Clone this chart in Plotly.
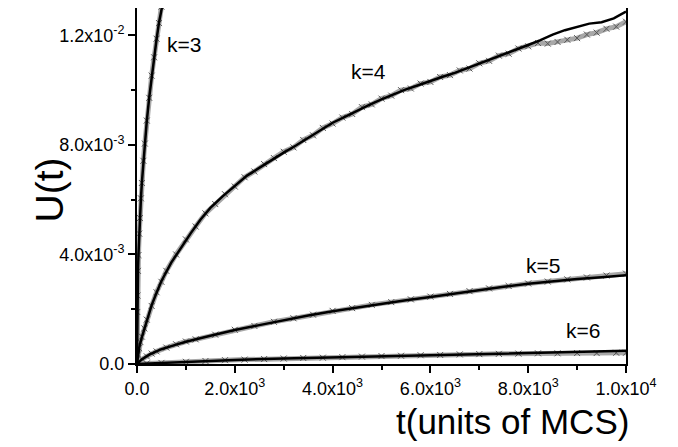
import plotly.graph_objects as go

# ---------------- data ----------------
# k=3
t3 = [0, 5, 10, 20, 30, 45, 60, 80, 100, 130, 160, 200, 250, 300, 350, 400, 450, 500, 530]
u3_line = [0, 0.00188, 0.00252, 0.00337, 0.0040, 0.00474, 0.00535, 0.00603, 0.00663, 0.0074,
           0.00807, 0.00887, 0.00974, 0.01051, 0.01122, 0.01186, 0.01247, 0.01303, 0.0132]
t3_sim = [0, 5, 10, 20, 30, 45, 60, 80, 100, 130, 160, 200, 250, 300, 350, 400, 450, 500, 530]
u3_sim = [0, 0.0019, 0.0025, 0.0034, 0.00398, 0.00476, 0.00533, 0.00605, 0.00661, 0.00742,
          0.00805, 0.00889, 0.00972, 0.01053, 0.0112, 0.01188, 0.01245, 0.01305, 0.01318]

# k=4
t4 = [0, 25, 50, 100, 200, 300, 400, 500, 700, 900, 1100, 1300, 1500, 1750, 2000, 2250, 2500,
      2750, 3000, 3250, 3500, 3750, 4000, 4250, 4500, 4750, 5000, 5250, 5500, 5750, 6000, 6250,
      6500, 6750, 7000, 7250, 7500, 7750, 8000, 8250, 8500, 8750, 9000, 9250, 9500, 9750, 10000]
u4_line = [0, 0.0004, 0.00065, 0.00098, 0.0016, 0.00215, 0.0026, 0.00303, 0.0037, 0.00425,
           0.00478, 0.00528, 0.0057, 0.00612, 0.00651, 0.00688, 0.00716, 0.00745, 0.00772,
           0.00798, 0.00826, 0.00853, 0.00881, 0.00902, 0.00925, 0.00946, 0.00966, 0.00985,
           0.01003, 0.01018, 0.01034, 0.01049, 0.01063, 0.0108, 0.01096, 0.01112, 0.0113,
           0.01148, 0.01165, 0.01183, 0.01203, 0.01219, 0.0123, 0.01243, 0.01248, 0.01262, 0.01287]
t4_sim = [0, 20, 40, 70, 100, 150, 200, 300, 400, 500, 600, 800, 1000, 1200, 1400, 1600, 1800,
          2000, 2200, 2400, 2600, 2800, 3000, 3200, 3400, 3600, 3800, 4000, 4200, 4400, 4600,
          4800, 5000, 5200, 5400, 5600, 5800, 6000, 6200, 6400, 6600, 6800, 7000, 7200, 7400,
          7600, 7800, 8000, 8200, 8400, 8600, 8800, 9000, 9200, 9400, 9600, 9800, 10000]
u4_sim = [0, 0.00035, 0.00058, 0.0008, 0.001, 0.0013, 0.00162, 0.00212, 0.00262, 0.003, 0.0034,
          0.004, 0.00455, 0.00502, 0.0055, 0.00584, 0.0062, 0.00648, 0.00682, 0.00703, 0.0073,
          0.00752, 0.00775, 0.00791, 0.00818, 0.00835, 0.00862, 0.00878, 0.009, 0.00913, 0.00938,
          0.00948, 0.00969, 0.0098, 0.01, 0.01006, 0.01024, 0.0103, 0.01048, 0.01055, 0.01072,
          0.01079, 0.01098, 0.01107, 0.01126, 0.01133, 0.01152, 0.0116, 0.01172, 0.0117, 0.01176,
          0.01184, 0.0119, 0.01203, 0.0121, 0.01224, 0.01232, 0.0125]

# k=5
t5 = [0, 100, 250, 500, 750, 1000, 1500, 2000, 2500, 3000, 3500, 4000, 4500, 5000, 5500, 6000,
      6500, 7000, 7500, 8000, 8500, 9000, 9500, 10000]
u5_line = [0, 0.00017, 0.00034, 0.00054, 0.00068, 0.00081, 0.00103, 0.00124, 0.00142, 0.0016,
           0.00177, 0.00193, 0.00207, 0.00221, 0.00233, 0.00245, 0.00258, 0.0027, 0.00282,
           0.00293, 0.00302, 0.0031, 0.00317, 0.00324]
t5_sim = [0, 50, 100, 200, 300, 400, 600, 800, 1000, 1200, 1600, 2000, 2400, 2800, 3200, 3600,
          4000, 4400, 4800, 5200, 5600, 6000, 6400, 6800, 7200, 7600, 8000, 8400, 8800, 9200,
          9600, 10000]
u5_sim = [0, 0.0001, 0.00017, 0.00028, 0.00038, 0.00046, 0.0006, 0.00072, 0.00082, 0.0009,
          0.00107, 0.00125, 0.00139, 0.00154, 0.00167, 0.0018, 0.00194, 0.00204, 0.00216,
          0.00226, 0.00236, 0.00246, 0.00256, 0.00266, 0.00276, 0.00285, 0.00294, 0.00301,
          0.00309, 0.00316, 0.00323, 0.0033]

# k=6
t6 = [0, 500, 1000, 2000, 3000, 4000, 5000, 6000, 7000, 8000, 9000, 10000]
u6_line = [0, 0.00004, 0.00008, 0.00015, 0.0002, 0.00024, 0.00029, 0.00033, 0.00036, 0.00039,
           0.00043, 0.00048]
t6_sim = [0, 200, 500, 1000, 1400, 1800, 2200, 2600, 3000, 3400, 3800, 4200, 4600, 5000, 5400,
          5800, 6200, 6600, 7000, 7400, 7800, 8200, 8600, 9000, 9400, 9800, 10000]
u6_sim = [0, 0.00002, 0.00004, 0.00008, 0.00011, 0.00014, 0.00016, 0.00018, 0.0002, 0.00022,
          0.00023, 0.00025, 0.00027, 0.00029, 0.0003, 0.00032, 0.00033, 0.00035, 0.00036,
          0.00037, 0.00038, 0.00039, 0.00039, 0.0004, 0.0004, 0.00041, 0.00041]

# axis ticks
x_tickvals = [0, 2000, 4000, 6000, 8000, 10000]
x_ticktext = ["0.0", "2.0x10<sup>3</sup>", "4.0x10<sup>3</sup>", "6.0x10<sup>3</sup>",
              "8.0x10<sup>3</sup>", "1.0x10<sup>4</sup>"]
x_minor = [1000, 3000, 5000, 7000, 9000]
y_tickvals = [0, 0.004, 0.008, 0.012]
y_ticktext = ["0.0", "4.0x10<sup>-3</sup>", "8.0x10<sup>-3</sup>", "1.2x10<sup>-2</sup>"]
y_minor = [0.002, 0.006, 0.010]

labels = ["k=3", "k=4", "k=5", "k=6"]
label_x = [961, 4724, 8303, 9120]
label_y = [0.01167, 0.01069, 0.0036, 0.00124]

# ---------------- figure ----------------
FONT = "Liberation Sans, Arial, sans-serif"
fig = go.Figure()

series = [(t3_sim, u3_sim, t3, u3_line), (t4_sim, u4_sim, t4, u4_line),
          (t5_sim, u5_sim, t5, u5_line), (t6_sim, u6_sim, t6, u6_line)]
for ts, us, tl, ul in series:
    fig.add_trace(go.Scatter(x=ts, y=us, mode="lines+markers",
                             line=dict(color="#a8a8a8", width=5),
                             marker=dict(symbol="x-thin", size=6,
                                         line=dict(color="#555555", width=1)),
                             showlegend=False, hoverinfo="skip"))
for ts, us, tl, ul in series:
    fig.add_trace(go.Scatter(x=tl, y=ul, mode="lines",
                             line=dict(color="black", width=2.5),
                             showlegend=False, hoverinfo="skip"))

for txt, lx, ly in zip(labels, label_x, label_y):
    fig.add_annotation(x=lx, y=ly, text=txt, showarrow=False,
                       font=dict(family=FONT, size=21, color="black"))

fig.add_annotation(xref="paper", yref="paper", x=1.01, y=-0.1, xanchor="right",
                   yanchor="top", text="t(units of MCS)", showarrow=False,
                   font=dict(family=FONT, size=35, color="black"))
fig.add_annotation(xref="paper", yref="paper", x=-0.178, y=0.49, xanchor="center",
                   yanchor="middle", text="U(t)", textangle=-90, showarrow=False,
                   font=dict(family=FONT, size=39, color="black"))

fig.update_layout(
    width=670, height=439,
    margin=dict(l=129, r=52, t=0, b=83, autoexpand=False),
    paper_bgcolor="white", plot_bgcolor="white",
    font=dict(family=FONT, size=18, color="black"),
)
fig.update_xaxes(
    range=[0, 10000], tickmode="array", tickvals=x_tickvals, ticktext=x_ticktext,
    ticks="outside", ticklen=7, tickwidth=2, tickcolor="black",
    minor=dict(tickmode="array", tickvals=x_minor, ticks="outside", ticklen=4, tickwidth=2,
               tickcolor="black"),
    showline=True, linewidth=2, linecolor="black", mirror=True, automargin=False,
    showgrid=False, zeroline=False, tickfont=dict(size=18),
)
fig.update_yaxes(
    range=[0, 0.013], tickmode="array", tickvals=y_tickvals, ticktext=y_ticktext,
    ticks="outside", ticklen=7, tickwidth=2, tickcolor="black",
    minor=dict(tickmode="array", tickvals=y_minor, ticks="outside", ticklen=4, tickwidth=2,
               tickcolor="black"),
    showline=True, linewidth=2, linecolor="black", mirror=True, automargin=False,
    showgrid=False, zeroline=False, tickfont=dict(size=18),
)

fig.write_html("out.html")
